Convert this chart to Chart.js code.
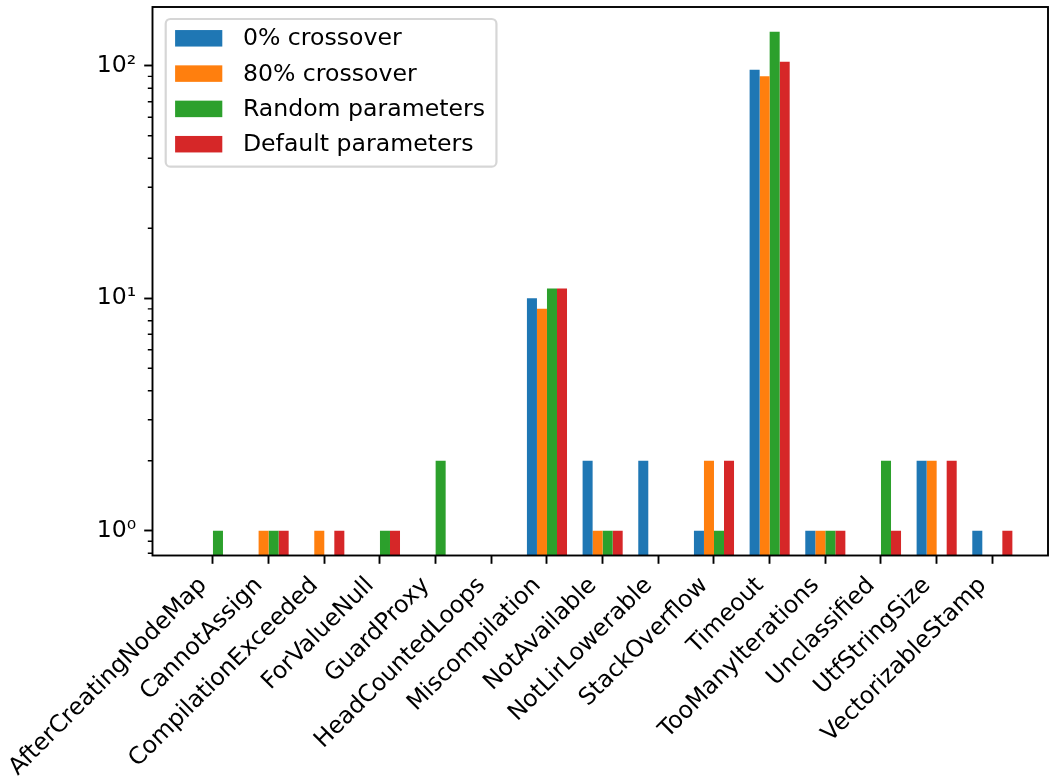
<!DOCTYPE html>
<html>
<head>
<meta charset="utf-8">
<script src="https://cdn.jsdelivr.net/npm/chart.js@4/dist/chart.umd.min.js"></script>
<style>
  html, body { margin: 0; padding: 0; background: #ffffff; }
  #wrap { width: 1049px; height: 779px; }
</style>
</head>
<body>
<div id="wrap"><canvas id="chart" width="1049" height="779"></canvas></div>
<script>
// Failure categories and their counts per configuration
const categories = [
  'AfterCreatingNodeMap', 'CannotAssign', 'CompilationExceeded', 'ForValueNull',
  'GuardProxy', 'HeadCountedLoops', 'Miscompilation', 'NotAvailable',
  'NotLirLowerable', 'StackOverflow', 'Timeout', 'TooManyIterations',
  'Unclassified', 'UtfStringSize', 'VectorizableStamp'
];
const seriesNames = ['0% crossover', '80% crossover', 'Random parameters', 'Default parameters'];
const crossover0   = [0, 0, 0, 0, 0, 0, 10, 2, 2, 1, 96, 1, 0, 2, 1];
const crossover80  = [0, 1, 1, 0, 0, 0, 9, 1, 0, 2, 90, 1, 0, 2, 0];
const randomParams = [1, 1, 0, 1, 2, 0, 11, 1, 0, 1, 140, 1, 2, 0, 0];
const defaultParams = [0, 1, 1, 1, 0, 0, 11, 1, 0, 2, 104, 1, 1, 2, 1];
const yTickValues = [1, 10, 100];
const yTickLabels = ['10\u2070', '10\u00b9', '10\u00b2'];
const yMinorValues = [0.8, 0.9, 2, 3, 4, 5, 6, 7, 8, 9, 20, 30, 40, 50, 60, 70, 80, 90];

const colors = ['#1f77b4', '#ff7f0e', '#2ca02c', '#d62728'];
const FONT = 'DejaVu Sans';
const FS = 23.6;
const LW = 1.9;

const seriesValues = [crossover0, crossover80, randomParams, defaultParams];
const datasets = seriesValues.map((vals, s) => ({
  label: seriesNames[s],
  data: vals.map((v, i) => ({ x: i, y: v > 0 ? v : null })),
  backgroundColor: colors[s],
  borderWidth: 0,
  categoryPercentage: 0.72,
  barPercentage: 1.0
}));

// Full box around the plotting area plus minor log ticks
const framePlugin = {
  id: 'frame',
  afterDatasetsDraw(chart) {
    const { ctx, chartArea: a } = chart;
    const y = chart.scales.y;
    ctx.save();
    ctx.strokeStyle = '#000';
    ctx.lineWidth = 1.4;
    ctx.beginPath();
    yMinorValues.forEach(v => {
      if (v < y.min || v > y.max) return;
      const py = y.getPixelForValue(v);
      ctx.moveTo(a.left - 4.7, py);
      ctx.lineTo(a.left, py);
    });
    ctx.stroke();
    ctx.lineWidth = LW;
    ctx.strokeRect(a.left, a.top, a.right - a.left, a.bottom - a.top);
    ctx.restore();
  }
};

// Legend box in the upper left corner of the plotting area
const legendPlugin = {
  id: 'boxLegend',
  afterDraw(chart) {
    const { ctx, chartArea: a } = chart;
    ctx.save();
    ctx.font = FS + 'px "' + FONT + '"';
    const labels = chart.data.datasets.map(d => d.label);
    const maxW = Math.max(...labels.map(t => ctx.measureText(t).width));
    const x0 = a.left + 13.2;
    const y0 = a.top + 12;
    const handleX = x0 + 9.4;
    const handleW = 47.2;
    const handleH = 16.5;
    const textX = handleX + handleW + 20.6;
    const rowH = 35.3;
    const firstRow = 19.3;
    const w = textX + maxW + 11.5 - x0;
    const h = firstRow + (labels.length - 1) * rowH + 22.4;
    const r = 4.7;
    ctx.beginPath();
    ctx.moveTo(x0 + r, y0);
    ctx.arcTo(x0 + w, y0, x0 + w, y0 + h, r);
    ctx.arcTo(x0 + w, y0 + h, x0, y0 + h, r);
    ctx.arcTo(x0, y0 + h, x0, y0, r);
    ctx.arcTo(x0, y0, x0 + w, y0, r);
    ctx.closePath();
    ctx.fillStyle = 'rgba(255,255,255,0.8)';
    ctx.fill();
    ctx.strokeStyle = 'rgba(204,204,204,0.8)';
    ctx.lineWidth = 2.2;
    ctx.stroke();
    ctx.textBaseline = 'middle';
    ctx.textAlign = 'left';
    chart.data.datasets.forEach((d, i) => {
      const cy = y0 + firstRow + i * rowH;
      ctx.fillStyle = d.backgroundColor;
      ctx.fillRect(handleX, cy - handleH / 2, handleW, handleH);
      ctx.fillStyle = '#000';
      ctx.fillText(d.label, textX, cy + 1);
    });
    ctx.restore();
  }
};

const tickFont = { family: FONT, size: FS };

new Chart(document.getElementById('chart'), {
  type: 'bar',
  data: { datasets },
  plugins: [framePlugin, legendPlugin],
  options: {
    responsive: false,
    animation: false,
    devicePixelRatio: 1,
    layout: { padding: { top: 7, right: 1, left: 0, bottom: 0 } },
    plugins: { legend: { display: false }, tooltip: { enabled: false } },
    scales: {
      x: {
        type: 'linear',
        bounds: 'data',
        min: -1.086,
        max: 15.0,
        offset: false,
        afterBuildTicks: s => { s.ticks = categories.map((_, i) => ({ value: i })); },
        afterFit: s => {
          s.height = 223.5;
          s.paddingLeft = 0; s.paddingRight = 0; s.paddingTop = 0; s.paddingBottom = 0;
        },
        ticks: {
          callback: v => categories[v],
          autoSkip: false,
          maxRotation: 45,
          minRotation: 45,
          padding: 8,
          labelOffset: -9.7,
          color: '#000',
          font: tickFont
        },
        grid: {
          offset: false,
          drawOnChartArea: false,
          drawTicks: true,
          tickLength: 8.3,
          tickColor: '#000',
          tickWidth: LW
        },
        border: { display: false }
      },
      y: {
        type: 'logarithmic',
        bounds: 'data',
        min: 0.782,
        max: 178.9,
        afterBuildTicks: s => { s.ticks = yTickValues.map(v => ({ value: v, major: true })); },
        afterFit: s => {
          s.width = 152.5;
          s.paddingLeft = 0; s.paddingRight = 0; s.paddingTop = 0; s.paddingBottom = 0;
        },
        ticks: {
          callback: v => yTickLabels[yTickValues.indexOf(v)],
          padding: 8,
          color: '#000',
          font: tickFont
        },
        grid: {
          drawOnChartArea: false,
          drawTicks: true,
          tickLength: 8.3,
          tickColor: '#000',
          tickWidth: LW
        },
        border: { display: false }
      }
    }
  }
});
</script>
</body>
</html>
